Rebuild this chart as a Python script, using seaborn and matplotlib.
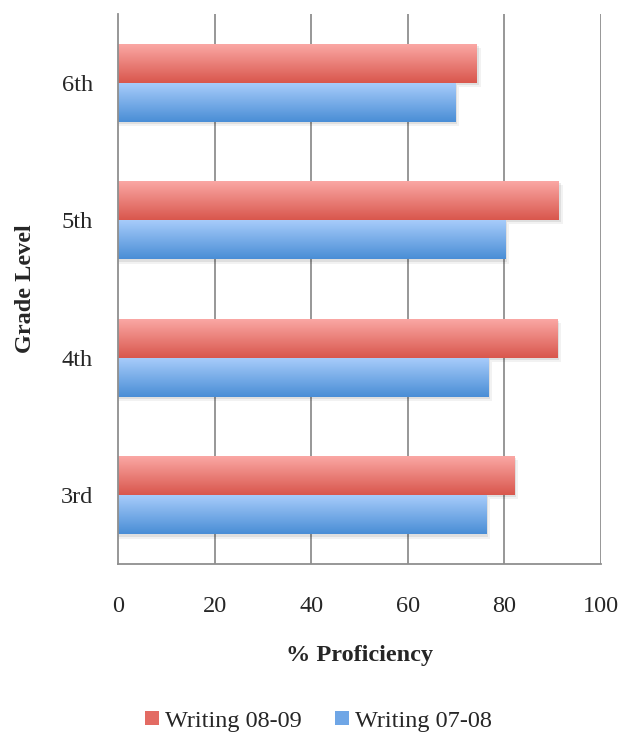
import matplotlib
matplotlib.use("Agg")
import matplotlib.pyplot as plt
import matplotlib.patches as mpatches
from matplotlib.colors import LinearSegmentedColormap
import numpy as np
import pandas as pd
import seaborn as sns

# ---------------------------------------------------------------------------
# Data
# ---------------------------------------------------------------------------
grades = ["6th", "5th", "4th", "3rd"]
writing_0809 = [74.3, 91.3, 91.0, 82.0]
writing_0708 = [69.8, 80.2, 76.7, 76.3]
series_names = ["Writing 08-09", "Writing 07-08"]
x_ticks = [0, 20, 40, 60, 80, 100]

# gradient (top, bottom) per series
_GRAD = {
    "Writing 08-09": ("#FBA9A6", "#D9574D"),
    "Writing 07-08": ("#A9CDFB", "#4A8ED6"),
}
_LEGEND = {"Writing 08-09": "#E36B63", "Writing 07-08": "#6FA6E6"}
_GRID = "#8f8f8f"
_FS = 17.5

df = pd.DataFrame({
    "Grade": grades * 2,
    "Proficiency": writing_0809 + writing_0708,
    "Series": [series_names[0]] * len(grades) + [series_names[1]] * len(grades),
})

sns.set_theme(style="white")
plt.rcParams["font.family"] = ["Liberation Serif", "DejaVu Serif"]

fig = plt.figure(figsize=(6.37, 7.39), dpi=100)
ax = fig.add_axes([118 / 637, 1 - 564 / 739, (601 - 118) / 637, (564 - 14) / 739])

sns.barplot(
    data=df, x="Proficiency", y="Grade", hue="Series",
    order=grades, hue_order=series_names, orient="h",
    width=0.57, palette=[_LEGEND[s] for s in series_names],
    ax=ax, legend=False, errorbar=None, saturation=1,
)

# gradient fills + soft shadow on each bar drawn by seaborn
bars = list(ax.patches)
for i, bar in enumerate(bars):
    name = series_names[i // len(grades)]
    top_c, bot_c = _GRAD[name]
    x0, y0 = bar.get_x(), bar.get_y()
    w, h = bar.get_width(), bar.get_height()
    cmap = LinearSegmentedColormap.from_list(name, [top_c, bot_c])
    for k, a in enumerate([0.08, 0.05]):
        shadow = mpatches.Rectangle((x0, y0 + 0.015 * (k + 1)), w + 0.4 * (k + 1), h,
                                    color="black", alpha=a, lw=0, zorder=1.5)
        ax.add_patch(shadow)
    # y axis is inverted: y0 is the top edge, y0 + h the bottom edge
    grad = np.linspace(0, 1, 64).reshape(-1, 1)
    im = ax.imshow(grad, cmap=cmap, aspect="auto",
                   extent=(x0, x0 + w, y0 + h, y0), origin="upper", zorder=2)
    im.set_clip_path(bar)
    bar.set_alpha(0)

ax.set_xlim(0, 100)
ax.set_ylim(3.5, -0.5)
ax.set_xticks(x_ticks)
ax.set_xticklabels([str(t) for t in x_ticks])
ax.grid(False)
for t in x_ticks[1:]:
    ax.axvline(t, color=_GRID, lw=1.3, zorder=1)

for side in ["top", "right"]:
    ax.spines[side].set_visible(False)
for side in ["left", "bottom"]:
    ax.spines[side].set_color(_GRID)
    ax.spines[side].set_linewidth(1.3)

ax.set_yticks(np.arange(-0.5, 4.0, 1.0), minor=True)
ax.tick_params(axis="y", which="major", length=0, pad=18, labelsize=_FS)
ax.tick_params(axis="y", which="minor", length=6, width=1.3, color=_GRID, direction="out")
ax.tick_params(axis="x", which="major", length=6, width=1.3, color=_GRID,
               direction="out", pad=17, labelsize=_FS)

ax.set_xlabel("% Proficiency", fontsize=_FS, fontweight="bold", labelpad=20)
ax.set_ylabel("Grade Level", fontsize=_FS, fontweight="bold", labelpad=18)

handles = [mpatches.Patch(facecolor=_LEGEND[s], edgecolor="none", label=s) for s in series_names]
fig.legend(handles=handles, loc="center", bbox_to_anchor=(0.5, 1 - 721 / 739), ncol=2,
           frameon=False, fontsize=_FS, handlelength=0.55, handleheight=0.55,
           handletextpad=0.25, columnspacing=1.4)

fig.savefig("out.png", dpi=100, facecolor="white")
